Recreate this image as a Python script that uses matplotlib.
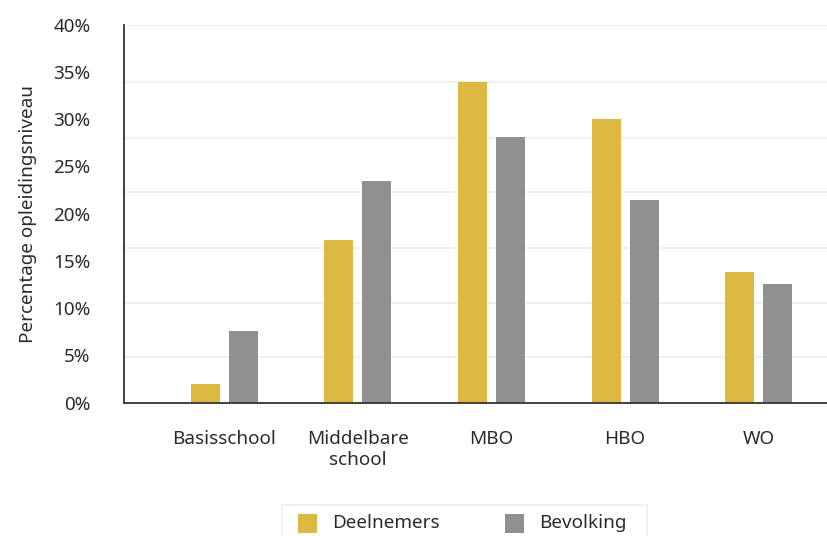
import matplotlib
matplotlib.use("Agg")
import matplotlib.pyplot as plt
from matplotlib.patches import Rectangle
import numpy as np

categories = ["Basisschool", "Middelbare\nschool", "MBO", "HBO", "WO"]
deelnemers = [2.0, 17.2, 33.9, 30.0, 13.8]
bevolking = [7.6, 23.5, 28.1, 21.5, 12.6]
series_names = ["Deelnemers", "Bevolking"]
series_colors = ["#DDB843", "#8F9092"]
y_ticks = [0, 5, 10, 15, 20, 25, 30, 35, 40]
y_tick_labels = [f"{v}%" for v in y_ticks]
grid_values = [4.85, 10.6, 16.4, 22.3, 28.05, 33.9, 40.0]

W, H = 827, 536
plt.rcParams['font.family'] = ['Noto Sans', 'DejaVu Sans']
text_color = "#2b2b2b"
fs = 13.6

fig = plt.figure(figsize=(W / 100, H / 100), dpi=100)
ax = fig.add_axes([124 / W, (H - 402.7) / H, (827 - 124) / W, (402.7 - 24.7) / H])

x = np.arange(len(categories))
bw = 0.217
off = 0.142
ax.bar(x - off, deelnemers, width=bw, color=series_colors[0], zorder=3)
ax.bar(x + off, bevolking, width=bw, color=series_colors[1], zorder=3)

for g in grid_values:
    ax.axhline(g, color="#eeeeee", lw=1.3, zorder=1)

ax.set_xlim(-0.749, 4.51)
ax.set_ylim(0, 40)
ax.set_yticks(y_ticks)
ax.set_yticklabels(y_tick_labels)
ax.set_xticks(x)
ax.set_xticklabels(categories)
ax.tick_params(axis="y", length=0, pad=24, labelsize=fs, labelcolor=text_color)
ax.tick_params(axis="x", length=0, pad=20, labelsize=fs, labelcolor=text_color)
ax.set_ylabel("Percentage opleidingsniveau", fontsize=fs, color=text_color, labelpad=12)

for s in ["top", "right"]:
    ax.spines[s].set_visible(False)
for s in ["left", "bottom"]:
    ax.spines[s].set_color("#333333")
    ax.spines[s].set_linewidth(1.3)
    ax.spines[s].set_zorder(4)

# legend drawn in figure pixel coordinates
def fx(px):
    return px / W

def fy(py):
    return (H - py) / H

fig.add_artist(Rectangle((fx(282), fy(545)), (647 - 282) / W, (545 - 505) / H,
                         transform=fig.transFigure, facecolor="white",
                         edgecolor="#eeeeee", lw=1.3))
leg_x = [298, 505]
for i, name in enumerate(series_names):
    fig.add_artist(Rectangle((fx(leg_x[i]), fy(533)), 19 / W, 19 / H,
                             transform=fig.transFigure,
                             facecolor=series_colors[i], edgecolor="none"))
    fig.text(fx(leg_x[i] + 34), fy(523.5), name, fontsize=fs, color=text_color,
             ha="left", va="center")

fig.savefig("out.png", dpi=100)
